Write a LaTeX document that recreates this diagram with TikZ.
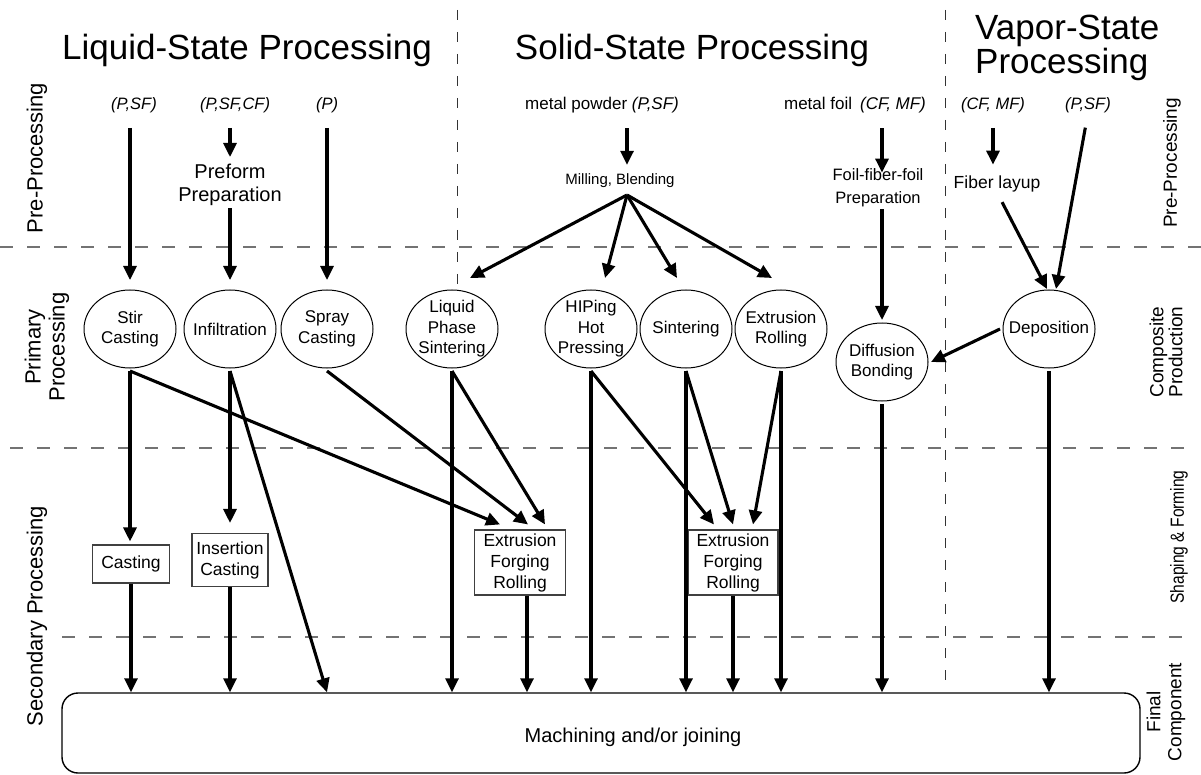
\documentclass[tikz,border=0pt]{standalone}
\usepackage{graphicx}
\usepackage{fontspec}
\setmainfont{Liberation Sans}
\usetikzlibrary{arrows.meta,shapes.geometric}
\newcommand\setfs[2]{\fontsize{#1pt}{#2pt}\selectfont}

\begin{document}
\begin{tikzpicture}[x=1pt,y=-1pt,
  every node/.style={inner sep=0pt},
  arr/.style={line width=3.1pt,-{Triangle[length=14pt,width=13pt]}},
  sepline/.style={dash pattern=on 13pt off 14pt,line width=1.3pt,black!55},
  colline/.style={dash pattern=on 10pt off 12pt,line width=1pt,black!80},
  title/.style={font=\setfs{35}{31}},
  inlabel/.style={font=\itshape\setfs{16.5}{20}},
  plain/.style={font=\setfs{17}{20},align=center},
  proc/.style={draw,ellipse,line width=1pt,fill=white,minimum width=92pt,minimum height=78pt,outer sep=3pt},
  ptext/.style={font=\setfs{17}{20.5},align=center},
  stepbox/.style={draw=black!75,line width=1.1pt,fill=white,align=center,font=\setfs{17.5}{21}},
  sidel/.style={rotate=90,font=\setfs{22}{24},align=center},
  sider/.style={rotate=90,font=\setfs{19}{19},align=center},
]
\useasboundingbox (0,0) rectangle (1201,775);

% stage separators
\draw[sepline] (0,247) -- (1201,247);
\draw[sepline] (10,448) -- (1198,448);
\draw[sepline] (62,637) -- (1192,637);
\draw[colline] (457,10) -- (457,284);
\draw[colline] (945,10) -- (945,690);

% column titles
\node[title] (tliq) at (247,50) {Liquid-State Processing};
\node[title] (tsol) at (692,50) {Solid-State Processing};
\node[title,align=left,anchor=west] (tvap) at (975,48) {Vapor-State\\Processing};

% raw materials
\node[inlabel] (lpsf) at (134,105) {(P,SF)};
\node[inlabel] (lpsfcf) at (235,105) {(P,SF,CF)};
\node[inlabel] (lp) at (327,105) {(P)};
\node[plain] (spow) at (602,105) {metal powder \textit{(P,SF)}};
\node[plain] (sfoil) at (855,105) {metal foil\hspace{8pt}\textit{(CF, MF)}};
\node[inlabel] (vcfmf) at (993,105) {(CF, MF)};
\node[inlabel] (vpsf) at (1088,105) {(P,SF)};

% pre-processing steps
\node[font=\setfs{20}{23},align=center] (prep) at (230,185) {Preform\\Preparation};
\node[font=\setfs{15}{18}] (mill) at (620,181) {Milling, Blending};
\coordinate (fan) at (627,195);
\node[font=\setfs{16.5}{23},align=center] (foilp) at (878,188) {Foil-fiber-foil\\Preparation};
\node[font=\setfs{17.5}{20}] (fiber) at (997,184) {Fiber layup};

% primary processing
\node[proc] (stir) at (130,329) {};
\node[ptext] (stirT) at (stir) {Stir\\Casting};
\node[proc] (infil) at (230,329) {};
\node[ptext] (infilT) at (infil) {Infiltration};
\node[proc] (spray) at (327,329) {};
\node[ptext] (sprayT) at (spray) {Spray\\Casting};
\node[proc] (lps) at (452,329) {};
\node[ptext] (lpsT) at (lps) {Liquid\\Phase\\Sintering};
\node[proc] (hip) at (591,329) {};
\node[ptext] (hipT) at (hip) {HIPing\\Hot\\Pressing};
\node[proc] (sint) at (686,329) {};
\node[ptext] (sintT) at (sint) {Sintering};
\node[proc] (extr) at (781,329) {};
\node[ptext] (extrT) at (extr) {Extrusion\\Rolling};
\node[proc] (diff) at (882,362) {};
\node[ptext] (diffT) at (diff) {Diffusion\\Bonding};
\node[proc] (dep) at (1049,329) {};
\node[ptext] (depT) at (dep) {Deposition};

% secondary processing
\node[stepbox,minimum width=77pt,minimum height=38pt] (cast) at (131,564) {Casting};
\node[stepbox,minimum width=76pt,minimum height=53pt] (insc) at (230,560) {Insertion\\Casting};
\node[stepbox,minimum width=91pt,minimum height=65pt] (efrA) at (520,562.5) {Extrusion\\Forging\\Rolling};
\node[stepbox,minimum width=90pt,minimum height=65pt] (efrB) at (733,562.5) {Extrusion\\Forging\\Rolling};

% final component
\node[draw,line width=1.4pt,rounded corners=16pt,minimum width=1078pt,minimum height=80pt] (mach) at (601,733) {};
\node[font=\setfs{20}{24}] (machT) at (633,737) {Machining and/or joining};

% row labels
\node[sidel] (lpre) at (37,158) {Pre-Processing};
\node[sidel] (lprim) at (47,347) {Primary\\Processing};
\node[sidel] (lsec) at (37,616) {Secondary Processing};
\node[sider] (rpre) at (1172,163) {Pre-Processing};
\node[sider] (rcomp) at (1166,352) {Composite\\Production};
\node[sider] (rshape) at (1179,537) {\scalebox{0.82}[1]{Shaping \& Forming}};
\node[sider,font=\setfs{19}{21}] (rfinal) at (1166,712) {Final\\Component};

% pre-processing flows
\draw[arr,shorten <=15pt,shorten >=7pt] (lpsf.south -| stir.north) -- (stir.north);
\draw[arr,shorten <=15pt,shorten >=7pt] (lpsfcf.south -| prep.north) -- (prep.north);
\draw[arr,shorten <=2pt,shorten >=7pt] (prep.south) -- (infil.north);
\draw[arr,shorten <=15pt,shorten >=7pt] (lp.south -| spray.north) -- (spray.north);
\draw[arr,shorten <=15pt,shorten >=9pt] (spow.south -| fan) -- (mill.north -| fan);
\draw[arr] (fan) -- ([xshift=18pt,yshift=9pt]lps.north);
\draw[arr] (fan) -- ([xshift=14pt,yshift=9pt]hip.north);
\draw[arr] (fan) -- ([xshift=-9pt,yshift=9pt]sint.north);
\draw[arr] (fan) -- ([xshift=-9pt,yshift=9pt]extr.north);
\draw[arr,shorten <=15pt,shorten >=-4pt] (sfoil.south -| diff.north) -- (foilp.north -| diff.north);
\draw[arr,shorten <=2pt] (foilp.south -| diff.north) -- (diff.north);
\draw[arr,shorten <=15pt,shorten >=11pt] (vcfmf.south) -- (vcfmf.south |- fiber.north);
\draw[arr,shorten <=11pt] (fiber.south) -- ([xshift=-2pt,yshift=-2pt]dep.north);
\draw[arr,shorten <=15pt] (vpsf.south) -- ([xshift=7pt,yshift=-2pt]dep.north);
\draw[arr] (dep.west) -- (diff.east);

% primary to secondary / final
\draw[arr,shorten >=3pt] (stir.south) -- (stir.south |- cast.north);
\draw[arr] (stir.south) -- ([xshift=-20pt,yshift=5pt]efrA.north);
\draw[arr,shorten >=10pt] (infil.south) -- (insc.north);
\draw[arr] (infil.south) -- (spray.south |- mach.north);
\draw[arr] (spray.south) -- ([xshift=8pt,yshift=5pt]efrA.north);
\draw[arr] (lps.south) -- ([xshift=25pt,yshift=5pt]efrA.north);
\draw[arr] (lps.south) -- (lps.south |- mach.north);
\draw[arr] (hip.south) -- (hip.south |- mach.north);
\draw[arr] (hip.south) -- ([xshift=-19pt,yshift=5pt]efrB.north);
\draw[arr] (sint.south) -- (sint.south |- mach.north);
\draw[arr] (sint.south) -- ([yshift=5pt]efrB.north);
\draw[arr] (extr.south) -- ([xshift=20pt,yshift=5pt]efrB.north);
\draw[arr] (extr.south) -- (extr.south |- mach.north);
\draw[arr] (diff.south) -- (diff.south |- mach.north);
\draw[arr] (dep.south) -- (dep.south |- mach.north);
\draw[arr] (cast.south) -- (cast.south |- mach.north);
\draw[arr] (insc.south) -- (insc.south |- mach.north);
\draw[arr] ([xshift=7pt]efrA.south) -- ([xshift=7pt]efrA.south |- mach.north);
\draw[arr] (efrB.south) -- (efrB.south |- mach.north);
\end{tikzpicture}
\end{document}
